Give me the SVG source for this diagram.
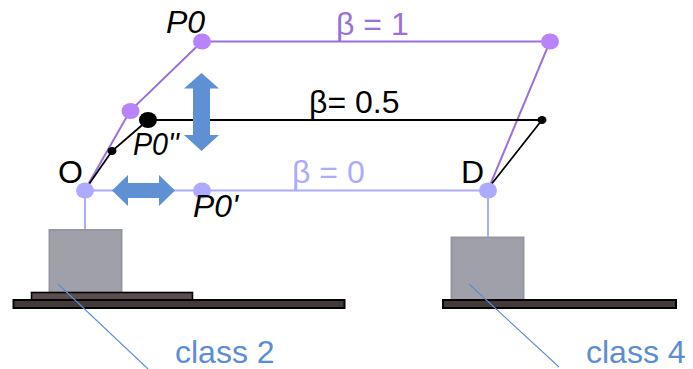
<svg xmlns="http://www.w3.org/2000/svg" width="693" height="369" viewBox="0 0 693 369">
<style>
text{font-family:"Liberation Sans",Arial,sans-serif;font-size:32px}
.blk{fill:#000}
.it{font-style:italic}
.cls{fill:#5b8dd6}
.box{fill:#a0a0aa;stroke:#96969f;stroke-width:2}
.plate{fill:#453a3a;stroke:#000;stroke-width:2}
.thin{fill:none;stroke:#5b8dd6;stroke-width:1.1}
.pur{fill:none;stroke:#9b6fdc;stroke-width:2}
.lav{fill:none;stroke:#adabff;stroke-width:2}
.bk{fill:none;stroke:#000;stroke-width:1.8}
.dp{fill:#b883fb}.dl{fill:#adabff}.db{fill:#000}
.arr{fill:#5f90d4}
</style>
<g id="base-left">
<rect class="box" x="49.500" y="230" width="72" height="63"/>
<rect x="31.500" y="292.500" width="161" height="8" fill="#5c4e4e" stroke="#000" stroke-width="1.600"/>
<rect class="plate" x="13.500" y="300" width="331" height="8"/>
</g>
<g id="base-right">
<rect class="box" x="451.500" y="237.500" width="72" height="62.500"/>
<rect class="plate" x="443" y="300" width="233" height="8"/>
</g>
<g id="connectors">
<path class="lav" d="M85 190.500H488M85 190.500V229M488 190.500V237"/>
<path class="pur" d="M85 190L130 111L202 41.500H550L488 190"/>
<path class="bk" d="M87 187L112 151L148 120H542L490 186"/>
<path class="thin" d="M58 284L148 369M469 284L559 367"/>
</g>
<g id="dots">
<ellipse id="node-o" class="dl" cx="85" cy="190.500" rx="9" ry="8"/>
<ellipse id="node-d" class="dl" cx="488" cy="190.500" rx="9" ry="8"/>
<ellipse id="node-p0prime" class="dl" cx="202" cy="190.500" rx="9" ry="8"/>
<ellipse id="node-p0" class="dp" cx="202" cy="41.500" rx="9" ry="8"/>
<ellipse id="node-right-top" class="dp" cx="550" cy="41.500" rx="9" ry="8"/>
<ellipse id="node-mid" class="dp" cx="130.500" cy="111" rx="9" ry="8"/>
<ellipse id="node-p0dd" class="db" cx="148" cy="120" rx="9" ry="8"/>
<ellipse id="node-small" class="db" cx="112" cy="151" rx="4.500" ry="4"/>
<ellipse id="node-right-mid" class="db" cx="542" cy="120" rx="4.500" ry="4"/>
</g>
<g id="arrows">
<path id="arrow-v" class="arr" d="M201.500 73L219 88.500H210V135H219L201.500 151L184 135H193V88.500H184Z"/>
<path id="arrow-h" class="arr" d="M112 190.500L128 175V183H159V175L175 190.500L159 206V198H128V206Z"/>
</g>
<g id="labels">
<text class="blk it" x="166" y="33">P0</text>
<text class="blk it" x="133" y="155" textLength="46" lengthAdjust="spacingAndGlyphs">P0''</text>
<text class="blk it" x="193" y="217" textLength="45" lengthAdjust="spacingAndGlyphs">P0'</text>
<text class="blk" x="58" y="183">O</text>
<text class="blk" x="461" y="183">D</text>
<text x="336" y="35" fill="#9b6fdc">β = 1</text>
<text class="blk" x="309" y="113">β= 0.5</text>
<text x="292" y="183" fill="#adabff">β = 0</text>
<text class="cls" x="175" y="363">class 2</text>
<text class="cls" x="586" y="363">class 4</text>
</g>
</svg>
